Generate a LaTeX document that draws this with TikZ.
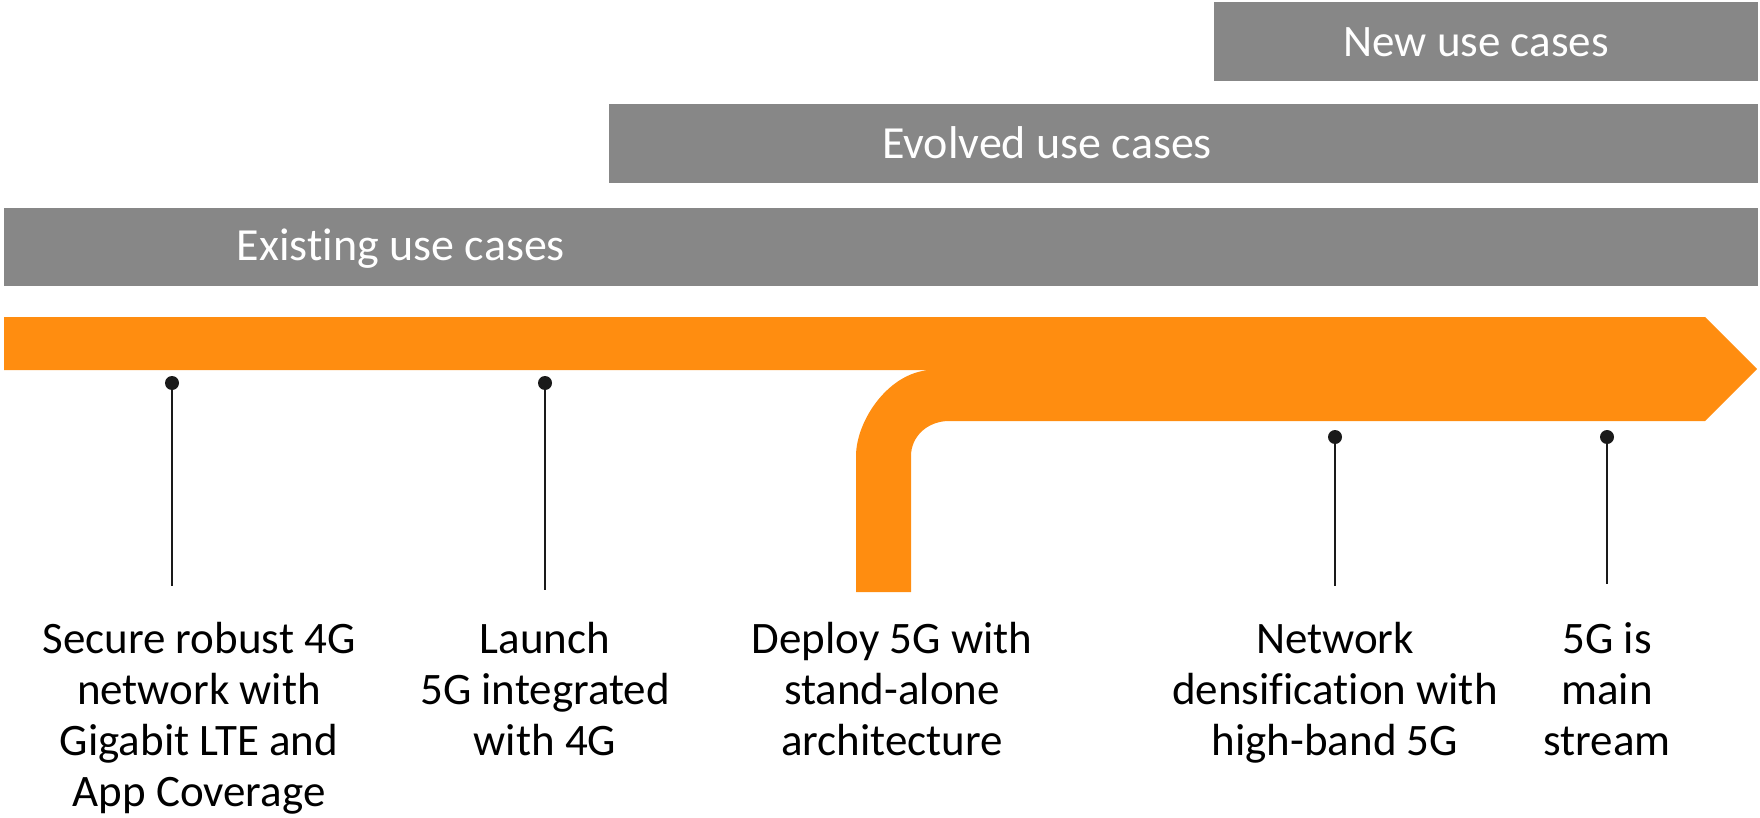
\documentclass[tikz,border=0pt]{standalone}
\usepackage{fontspec}
\setmainfont{Carlito}[Ligatures={NoCommon}]
\definecolor{barg}{RGB}{135,135,135}
\definecolor{org}{RGB}{255,141,16}
\definecolor{pinc}{RGB}{26,26,26}
\begin{document}
\begin{tikzpicture}[x=0.5pt,y=-0.5pt,
  bartxt/.style={text=white,font=\fontsize{23}{27}\selectfont,anchor=base,inner sep=0pt},
  lbl/.style={font=\fontsize{22.5}{25.6}\selectfont,align=center,anchor=north,inner sep=0pt},
  dotpin/.style={circle,fill=pinc,inner sep=0pt,minimum size=7pt},
  pinline/.style={draw=pinc,line width=1pt}]
\useasboundingbox (0,0) rectangle (1760,818);
% bars
\fill[barg] (1214,2) rectangle (1758,81);
\fill[barg] (609,104) rectangle (1758,183);
\fill[barg] (4,208) rectangle (1758,286);
\node[bartxt,font=\fontsize{22.5}{27}\selectfont] (newt) at (1476,57) {New use cases};
\node[bartxt] (evot) at (1047,159) {Evolved use cases};
\node[bartxt] (exit) at (401,260) {Existing use cases};
% orange arrow
\fill[org] (4,317) -- (1705,317) -- (1757,369) -- (1705,421) -- (949,421)
  .. controls (928,421) and (911,436) .. (911,456) -- (911,592) -- (856,592) -- (856,456)
  .. controls (856,420) and (890,370) .. (933,370) -- (4,370) -- cycle;
% pins
\node[dotpin] (d1) at (172,383) {};
\node[dotpin] (d2) at (545,383) {};
\node[dotpin] (d3) at (1335,437) {};
\node[dotpin] (d4) at (1607,437) {};
\coordinate (e1) at (172,586);
\coordinate (e2) at (545,590);
\coordinate (e3) at (1335,586);
\coordinate (e4) at (1607,584);
\draw[pinline] (d1.center) -- (e1);
\draw[pinline] (d2.center) -- (e2);
\draw[pinline] (d3.center) -- (e3);
\draw[pinline] (d4.center) -- (e4);
% labels
\node[lbl] (l1) at (199,617) {\strut Secure robust 4G\\network with\\Gigabit LTE and\\App Coverage};
\node[lbl] (l2) at (545,617) {\strut Launch\\5G integrated\\with 4G};
\node[lbl] (l3) at (892,617) {\strut Deploy 5G with\\stand-alone\\architecture};
\node[lbl] (l4) at (1335,617) {\strut Network\\densification with\\high-band 5G};
\node[lbl] (l5) at (1607,617) {\strut 5G is\\main\\stream};
\end{tikzpicture}
\end{document}
